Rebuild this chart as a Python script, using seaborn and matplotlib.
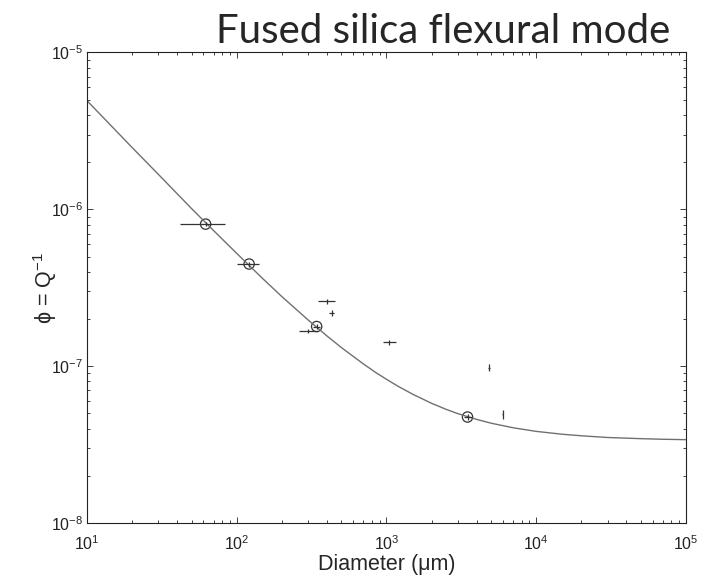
import numpy as np
import pandas as pd
import matplotlib
matplotlib.use("Agg")
import matplotlib.pyplot as plt
import matplotlib.ticker as mticker
import seaborn as sns

# Loss-angle model curve (diameter in um, phi)
curve_d = [10, 15, 20, 30, 50, 70, 100, 150, 200, 300, 400, 500, 700, 850,
           1000, 1200, 1500, 2000, 2500, 3000, 4000, 5000, 7000, 10000,
           15000, 20000, 30000, 50000, 70000, 100000]
curve_phi = [4.93e-6, 3.30e-6, 2.48e-6, 1.67e-6, 1.01e-6, 7.33e-7, 5.24e-7,
             3.60e-7, 2.78e-7, 1.97e-7, 1.56e-7, 1.315e-7, 1.035e-7, 9.1e-8,
             8.25e-8, 7.43e-8, 6.62e-8, 5.8e-8, 5.31e-8, 4.98e-8, 4.58e-8,
             4.33e-8, 4.05e-8, 3.84e-8, 3.68e-8, 3.6e-8, 3.51e-8, 3.45e-8,
             3.42e-8, 3.4e-8]

# Measured samples with ranges
meas_d = [62, 121, 342, 3480, 301, 399, 430, 1045, 4850, 5970]
meas_phi = [8.05e-7, 4.48e-7, 1.79e-7, 4.74e-8, 1.68e-7, 2.60e-7, 2.18e-7,
            1.42e-7, 9.8e-8, 4.97e-8]
meas_d_lo = [42, 100, 322, 3300, 262, 351, 413, 952, 4800, 5930]
meas_d_hi = [83, 141, 362, 3700, 347, 453, 448, 1157, 4900, 6010]
meas_phi_lo = [7.8e-7, 4.32e-7, 1.72e-7, 4.55e-8, 1.63e-7, 2.5e-7, 2.08e-7,
               1.37e-7, 9.27e-8, 4.61e-8]
meas_phi_hi = [8.3e-7, 4.64e-7, 1.86e-7, 4.93e-8, 1.73e-7, 2.7e-7, 2.28e-7,
               1.47e-7, 1.04e-7, 5.28e-8]

# Samples that define the fit (circled)
fit_d = [62, 121, 342, 3480]
fit_phi = [8.05e-7, 4.48e-7, 1.79e-7, 4.74e-8]

sns.set_style("ticks")
plt.rcParams["font.family"] = ["Liberation Sans", "DejaVu Sans"]

fig = plt.figure(figsize=(7.13, 5.75), dpi=100)
ax = fig.add_axes([0.122, 0.0904, 0.840, 0.8183])

curve = pd.DataFrame({"d": curve_d, "phi": curve_phi})
sns.lineplot(data=curve, x="d", y="phi", ax=ax, color="#707070",
             linewidth=1.0, estimator=None, sort=False)

d = np.array(meas_d)
p = np.array(meas_phi)
xerr = [d - np.array(meas_d_lo), np.array(meas_d_hi) - d]
yerr = [p - np.array(meas_phi_lo), np.array(meas_phi_hi) - p]
ax.errorbar(d, p, xerr=xerr, yerr=yerr, fmt="none", ecolor="#333333",
            elinewidth=0.9, capsize=0)

fits = pd.DataFrame({"d": fit_d, "phi": fit_phi})
sns.scatterplot(data=fits, x="d", y="phi", ax=ax, marker="o", s=55,
                facecolors="none", edgecolor="#333333", linewidth=0.9)

ax.set_xscale("log")
ax.set_yscale("log")
ax.set_xlim(10, 1e5)
ax.set_ylim(1e-8, 1e-5)
ax.xaxis.set_major_locator(mticker.LogLocator(base=10, numticks=10))
ax.yaxis.set_major_locator(mticker.LogLocator(base=10, numticks=10))
ax.xaxis.set_minor_locator(mticker.LogLocator(base=10, subs=np.arange(2, 10), numticks=20))
ax.yaxis.set_minor_locator(mticker.LogLocator(base=10, subs=np.arange(2, 10), numticks=20))
ax.xaxis.set_minor_formatter(mticker.NullFormatter())
ax.yaxis.set_minor_formatter(mticker.NullFormatter())

ax.tick_params(which="both", direction="in", top=True, right=True,
               colors="#222222", labelsize=11.5, width=0.6)
ax.tick_params(which="major", length=4.5)
ax.tick_params(axis="y", which="major", pad=3)
ax.tick_params(axis="x", which="major", pad=8)
ax.tick_params(which="minor", length=2.5)
for s in ax.spines.values():
    s.set_linewidth(0.8)
    s.set_color("#222222")

ax.set_xlabel("Diameter (μm)", fontsize=15.5, labelpad=1)
ax.set_ylabel("ϕ = Q$^{\\mathdefault{-1}}$", fontsize=15.5, labelpad=-6)

fig.text(0.621, 0.945, "Fused silica flexural mode", ha="center",
         va="center", fontsize=29, family="Lato")

fig.savefig("out.png", dpi=100)
